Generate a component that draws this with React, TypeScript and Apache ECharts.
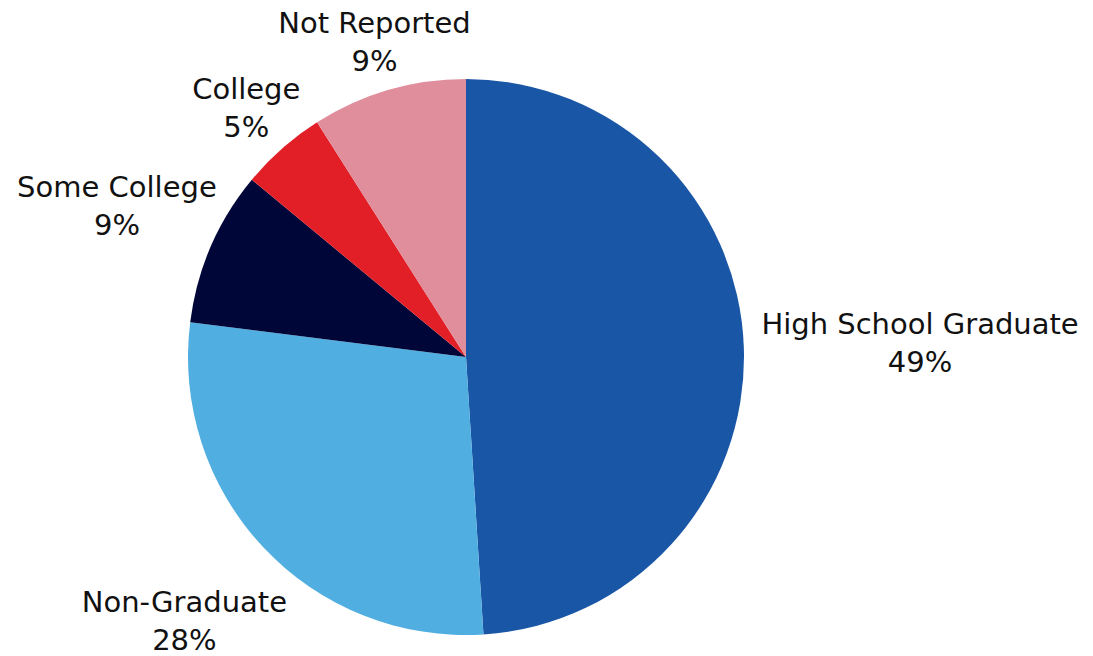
import React, { useEffect, useRef } from "react";
import * as echarts from "echarts";

const categories = ["High School Graduate", "Non-Graduate", "Some College", "College", "Not Reported"];
const values = [49, 28, 9, 5, 9];
const colors = ["#1A56A6", "#50AEE0", "#000638", "#E21F26", "#E08E9C"];

const CX = 466;
const CY = 357;
const R = 278;

export default function App() {
  const ref = useRef<HTMLDivElement>(null);
  useEffect(() => {
    if (!ref.current) return;
    const chart = echarts.init(ref.current, undefined, { renderer: "svg" });
    const total = values.reduce((a, b) => a + b, 0);
    const mids: number[] = [];
    let acc = 0;
    values.forEach((v) => {
      mids.push(((acc + v / 2) / total) * Math.PI * 2);
      acc += v;
    });
    chart.setOption({
      animation: false,
      backgroundColor: "#ffffff",
      series: [
        {
          type: "pie",
          center: [CX, CY],
          radius: R,
          startAngle: 90,
          clockwise: true,
          avoidLabelOverlap: false,
          data: categories.map((name, i) => ({
            name,
            value: values[i],
            itemStyle: { color: colors[i] },
          })),
          itemStyle: { borderWidth: 0 },
          label: {
            show: true,
            position: "outside",
            formatter: "{b}\n{c}%",
            fontFamily: "DejaVu Sans",
            fontSize: 29,
            lineHeight: 38,
            color: "#111111",
            align: "center",
          },
          labelLine: { show: false },
          labelLayout: (params: any) => {
            const a = mids[params.dataIndex];
            const dx = Math.sin(a);
            const dy = -Math.cos(a);
            const w = params.labelRect.width;
            const h = params.labelRect.height;
            const d =
              R +
              Math.abs(dx) * (w / 2) +
              Math.abs(dy) * (h / 2 - 8) +
              2 +
              15 * Math.max(0, dx) +
              (dy < 0 ? 8 * dy : 16 * dy);
            return {
              x: CX + dx * d,
              y: CY + dy * d,
              align: "center",
              verticalAlign: "middle",
            };
          },
          emphasis: { disabled: true },
        },
      ],
    });
    return () => chart.dispose();
  }, []);
  return (
    <div
      ref={ref}
      style={{ position: "fixed", left: 0, top: 0, width: 1093, height: 656 }}
    />
  );
}
